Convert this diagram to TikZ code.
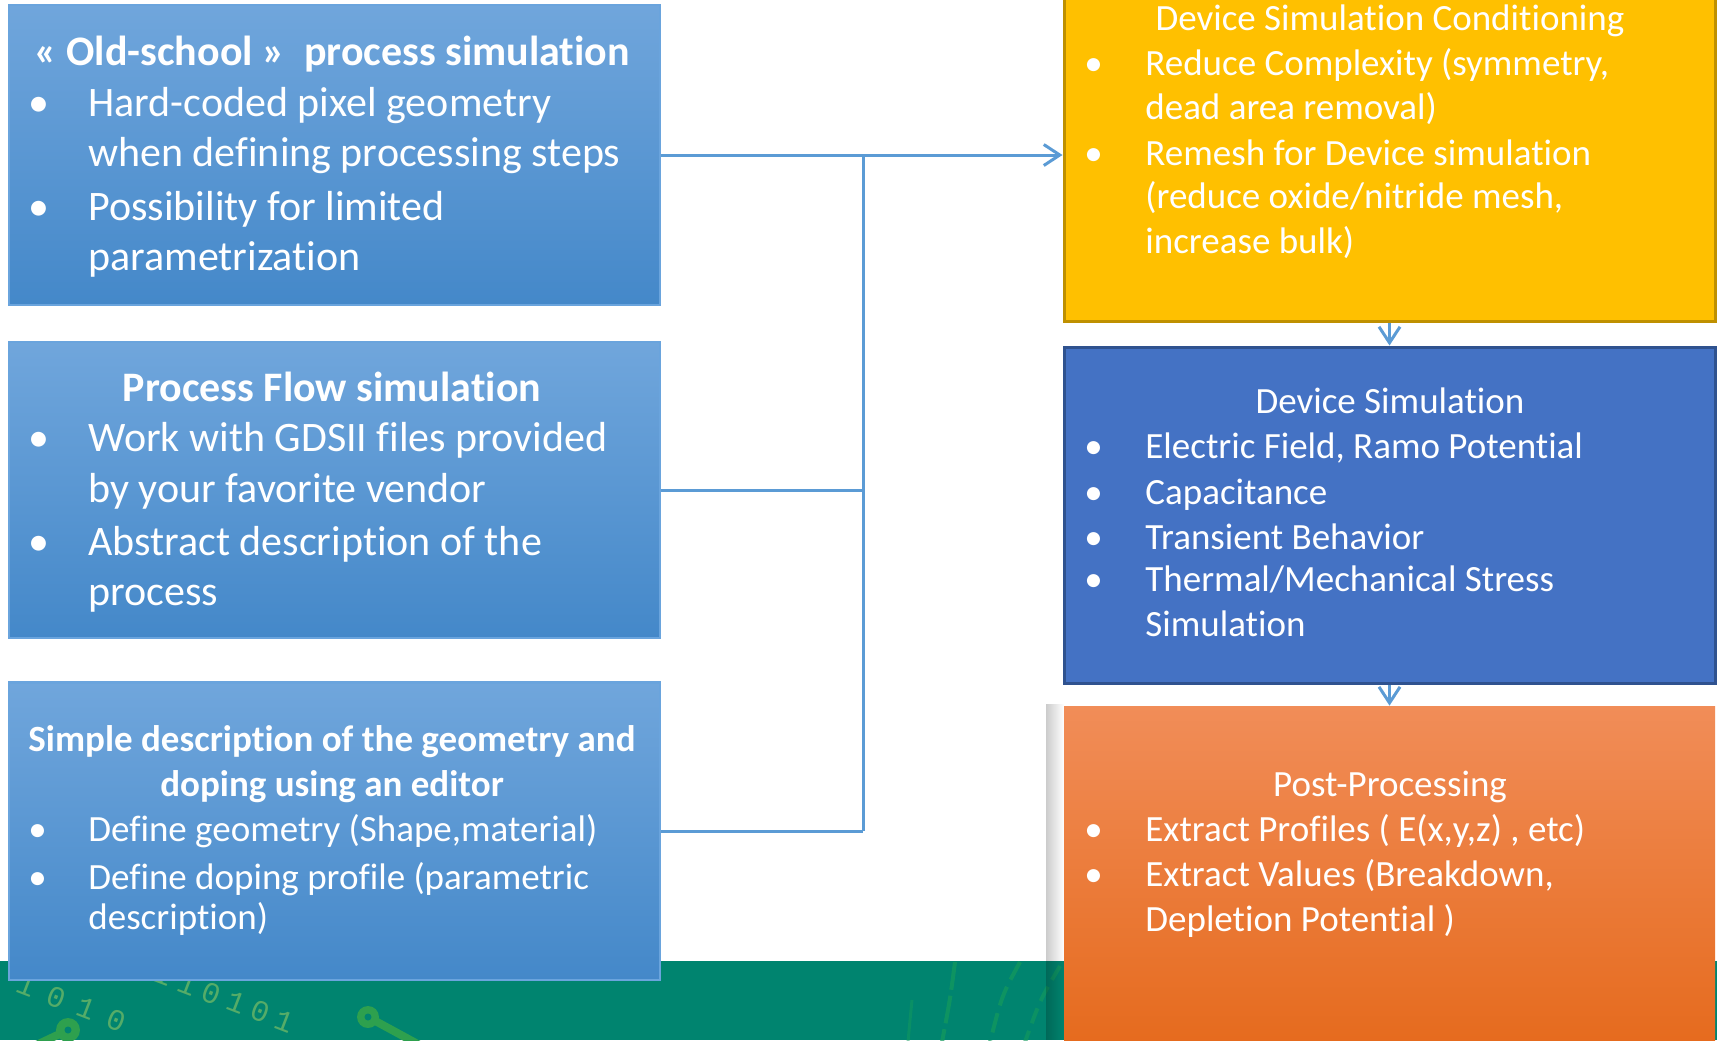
\documentclass[tikz,border=0pt]{standalone}
\usepackage{fontspec}
\setmainfont{Carlito}[Ligatures={NoCommon,NoRequired,NoContextual},Contextuals=NoAlternate]
\newfontfamily\digitfont{Liberation Mono}
\usetikzlibrary{arrows.meta,fadings}
\definecolor{lt}{HTML}{70A6DC}
\definecolor{lb}{HTML}{4488C9}
\definecolor{lbd}{HTML}{6AA4DD}
\definecolor{yf}{HTML}{FFC000}
\definecolor{ybd}{HTML}{BF9000}
\definecolor{bf}{HTML}{4472C4}
\definecolor{bbd}{HTML}{2F528F}
\definecolor{ot}{HTML}{F18D58}
\definecolor{ob}{HTML}{E5691B}
\definecolor{conncol}{HTML}{5B9BD5}
\definecolor{band}{HTML}{00846F}
\definecolor{digit}{HTML}{55AC68}
\definecolor{circ}{HTML}{2EA04E}
\definecolor{swirl}{HTML}{149A5C}
\tikzset{
  boxbase/.style={rectangle, inner sep=0pt, minimum width=325.5pt},
  lbox/.style={boxbase, top color=lt, bottom color=lb, draw=lbd, line width=1.2pt},
  ybox/.style={boxbase, fill=yf, draw=ybd, line width=1.5pt},
  bbox/.style={boxbase, fill=bf, draw=bbd, line width=1.5pt},
  obox/.style={boxbase, top color=ot, bottom color=ob},
  ln/.style={anchor=base west, inner sep=0pt, text=white},
  ttl/.style={anchor=base, inner sep=0pt, text=white},
  big/.style={font=\fontsize{21pt}{25pt}\selectfont},
  bigb/.style={font=\fontsize{21pt}{25pt}\selectfont\bfseries},
  sml/.style={font=\fontsize{18.5pt}{22pt}\selectfont},
  smlb/.style={font=\fontsize{18.5pt}{22pt}\selectfont\bfseries},
  conn/.style={draw=conncol, line width=1.5pt},
  tip/.style={-{Straight Barb[length=8pt,width=10.5pt,line width=1.5pt]}},
  dig/.style={inner sep=0pt, text=digit, font=\fontsize{15pt}{15pt}\selectfont\digitfont, rotate=-21},
}
\newcommand{\ka}{\kern7pt}
\newcommand{\kb}{\kern4pt}
\begin{document}
\begin{tikzpicture}[x=0.5pt,y=-0.5pt]
\useasboundingbox (0,0) rectangle (1717,1040);
\clip (0,0) rectangle (1717,1040);
\fill[white] (0,0) rectangle (1717,1040);

% green band with decorations
\fill[band] (0,961) rectangle (1717,1040);
\node[dig] (bits1) at (71.5,1003) {1\ka 0\ka 1\ka 0};
\node[dig] (bits2) at (224,998) {1\kb 1\kb 0\kb 1\kb 0\kb 1};
\draw[circ, line width=4pt] (68,1030) -- (30,1048);
\fill[circ] (68,1030) circle[radius=12];
\fill[band] (68,1030) circle[radius=3.5];
\draw[circ, line width=4pt] (368,1017) -- (425,1048);
\fill[circ] (368,1017) circle[radius=11];
\fill[band] (368,1017) circle[radius=3.5];
\draw[swirl, opacity=0.7, line width=2pt, dash pattern=on 14pt off 3pt] (955,962) .. controls (950,1000) .. (942,1042);
\draw[swirl, opacity=0.7, line width=2pt, dash pattern=on 10pt off 4pt] (1020,962) .. controls (1002,995) .. (990,1042);
\draw[swirl, opacity=0.6, line width=2pt, dash pattern=on 8pt off 4pt] (1060,966) .. controls (1040,1000) .. (1025,1042);
\draw[swirl, opacity=0.5, line width=1.5pt] (912,1000) .. controls (910,1020) .. (908,1042);

% shadow of the orange box
\fill[black, opacity=0.2, path fading=east] (1046,704) rectangle (1064,1040);

% boxes
\node[lbox, minimum height=150pt] (box1) at (334.5,155) {};
\node[lbox, minimum height=148pt] (box2) at (334.5,490) {};
\node[lbox, minimum height=148.75pt] (box3) at (334.5,831.25) {};
\node[ybox, minimum height=170.5pt] (cond) at (1389.5,150.5) {};
\node[bbox, minimum height=168.25pt] (dev) at (1389.5,515.25) {};
\node[obox, minimum height=177pt] (post) at (1389.5,883) {};

% connectors
\coordinate (j1) at (863,155);
\draw[conn] (box1.east) -- (j1) -- (box3.east -| j1);
\draw[conn] (box2.east) -- (box2.east -| j1);
\draw[conn] (box3.east) -- (box3.east -| j1);
\draw[conn, tip] (j1) -- (j1 -| cond.west);
\draw[conn, tip] (cond.south) -- (dev.north);
\draw[conn, tip] (dev.south) -- (post.north);

% box 1 text
\node[ttl, bigb] (b1t) at (332,65) {« Old-school »~ process simulation};
\node[ln, big] (b1b1) at (28,116.7) {•};
\node[ln, big] (b1l1) at (88,116.7) {Hard-coded pixel geometry};
\node[ln, big] (b1l2) at (88,166.7) {when defining processing steps};
\node[ln, big] (b1b2) at (28,220) {•};
\node[ln, big] (b1l3) at (88,220) {Possibility for limited};
\node[ln, big] (b1l4) at (88,270) {parametrization};

% box 2 text
\node[ttl, bigb] (b2t) at (332,401.7) {Process Flow simulation};
\node[ln, big] (b2b1) at (28,451.7) {•};
\node[ln, big] (b2l1) at (88,451.7) {Work with GDSII files provided};
\node[ln, big] (b2l2) at (88,502) {by your favorite vendor};
\node[ln, big] (b2b2) at (28,555) {•};
\node[ln, big] (b2l3) at (88,555) {Abstract description of the};
\node[ln, big] (b2l4) at (88,605) {process};

% box 3 text
\node[ttl, smlb] (b3t1) at (332,751.7) {Simple description of the geometry and};
\node[ttl, smlb] (b3t2) at (332,796.7) {doping using an editor};
\node[ln, sml] (b3b1) at (28,841.7) {•};
\node[ln, sml] (b3l1) at (88,841.7) {Define geometry (Shape,material)};
\node[ln, sml] (b3b2) at (28,889.5) {•};
\node[ln, sml] (b3l2) at (88,889.5) {Define doping profile (parametric};
\node[ln, sml] (b3l3) at (88,929) {description)};

% conditioning text
\node[ttl, sml] (ct) at (1390,30.7) {Device Simulation Conditioning};
\node[ln, sml] (cb1) at (1084,75) {•};
\node[ln, sml] (cl1) at (1145,75) {Reduce Complexity (symmetry,};
\node[ln, sml] (cl2) at (1145,119.3) {dead area removal)};
\node[ln, sml] (cb2) at (1084,165.7) {•};
\node[ln, sml] (cl3) at (1145,165.7) {Remesh for Device simulation};
\node[ln, sml] (cl4) at (1145,208.3) {(reduce oxide/nitride mesh,};
\node[ln, sml] (cl5) at (1145,253.3) {increase bulk)};

% device simulation text
\node[ttl, sml] (dt) at (1390,413.3) {Device Simulation};
\node[ln, sml] (db1) at (1084,458.3) {•};
\node[ln, sml] (dl1) at (1145,458.3) {Electric Field, Ramo Potential};
\node[ln, sml] (db2) at (1084,504) {•};
\node[ln, sml] (dl2) at (1145,504) {Capacitance};
\node[ln, sml] (db3) at (1084,549.3) {•};
\node[ln, sml] (dl3) at (1145,549.3) {Transient Behavior};
\node[ln, sml] (db4) at (1084,591.7) {•};
\node[ln, sml] (dl4) at (1145,591.7) {Thermal/Mechanical Stress};
\node[ln, sml] (dl5) at (1145,636.7) {Simulation};

% post-processing text
\node[ttl, sml] (pt) at (1390,796.7) {Post-Processing};
\node[ln, sml] (pb1) at (1084,841.7) {•};
\node[ln, sml] (pl1) at (1145,841.7) {Extract Profiles ( E(x,y,z) , etc)};
\node[ln, sml] (pb2) at (1084,886.7) {•};
\node[ln, sml] (pl2) at (1145,886.7) {Extract Values (Breakdown,};
\node[ln, sml] (pl3) at (1145,931.7) {Depletion Potential )};
\end{tikzpicture}
\end{document}
